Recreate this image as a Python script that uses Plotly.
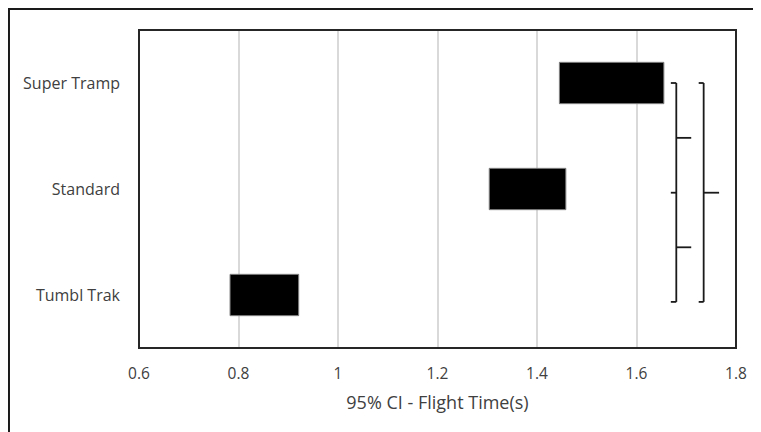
import plotly.graph_objects as go

# ---- data ----
categories = ["Tumbl Trak", "Standard", "Super Tramp"]
ci_low = [0.783, 1.304, 1.445]
ci_high = [0.921, 1.458, 1.655]
x_ticks = [0.6, 0.8, 1.0, 1.2, 1.4, 1.6, 1.8]
x_tick_labels = ["0.6", "0.8", "1", "1.2", "1.4", "1.6", "1.8"]
x_title = "95% CI - Flight Time(s)"

# bracket annotations (comparison braces): x position, y span (category index)
inner_x = 1.680
inner_hook = 1.669
inner_tick = 1.710
outer_x = 1.735
outer_hook = 1.725
outer_tick = 1.766

widths = [h - l for l, h in zip(ci_low, ci_high)]

fig = go.Figure()
fig.add_trace(go.Bar(
    y=categories, x=widths, base=ci_low, orientation="h",
    width=0.39,
    marker=dict(color="#000000", line=dict(color="#808080", width=1)),
    hoverinfo="skip",
))

font_color = "#404040"
fam = "Open Sans, Calibri, Carlito, sans-serif"

# page body has an 8px margin, so the figure is offset by 8px
fig.update_layout(
    width=753, height=424,
    margin=dict(l=131, r=25, t=22, b=84),
    paper_bgcolor="white", plot_bgcolor="white",
    showlegend=False,
    font=dict(family=fam, size=15, color=font_color),
    xaxis=dict(
        range=[0.6, 1.8], tickvals=x_ticks, ticktext=x_tick_labels,
        showgrid=True, gridcolor="#d9d9d9", gridwidth=1.5,
        zeroline=False, showline=False, ticks="",
        ticklabelstandoff=14,
        tickfont=dict(size=15.5, color=font_color),
        title=dict(text=x_title, standoff=13, font=dict(size=18, color=font_color)),
    ),
    yaxis=dict(
        type="category", categoryorder="array", categoryarray=categories,
        range=[-0.5, 2.5], showgrid=False, zeroline=False, showline=False,
        ticks="", ticklabelstandoff=18,
        tickfont=dict(size=16, color=font_color),
    ),
)

shapes = []
# plot frame
shapes.append(dict(type="rect", xref="paper", yref="paper", x0=0, x1=1, y0=0, y1=1,
                   line=dict(color="#262626", width=2), layer="above"))
# outer chart border (left/top only visible)
shapes.append(dict(type="rect", xref="paper", yref="paper", x0=-0.2178, x1=1.5, y0=-1, y1=1.066,
                   line=dict(color="#1a1a1a", width=2)))

line_style = dict(color="#1a1a1a", width=1.8)

def vline(x, y0, y1):
    shapes.append(dict(type="line", xref="x", yref="y", x0=x, x1=x, y0=y0, y1=y1, line=line_style))

def hline(x0, x1, y):
    shapes.append(dict(type="line", xref="x", yref="y", x0=x0, x1=x1, y0=y, y1=y, line=line_style))

top_y = 2.0
mid_y = 0.965
bot_y = -0.065

# inner braces: Super Tramp-Standard and Standard-Tumbl Trak
vline(inner_x, bot_y, top_y)
hline(inner_hook, inner_x, top_y)
hline(inner_hook, inner_x, bot_y)
hline(inner_hook, inner_x, mid_y)
hline(inner_x, inner_tick, (top_y + mid_y) / 2)
hline(inner_x, inner_tick, (mid_y + bot_y) / 2)
# outer brace: Super Tramp-Tumbl Trak
vline(outer_x, bot_y, top_y)
hline(outer_hook, outer_x, top_y)
hline(outer_hook, outer_x, bot_y)
hline(outer_x, outer_tick, mid_y)

fig.update_layout(shapes=shapes)

fig.write_html("out.html")
